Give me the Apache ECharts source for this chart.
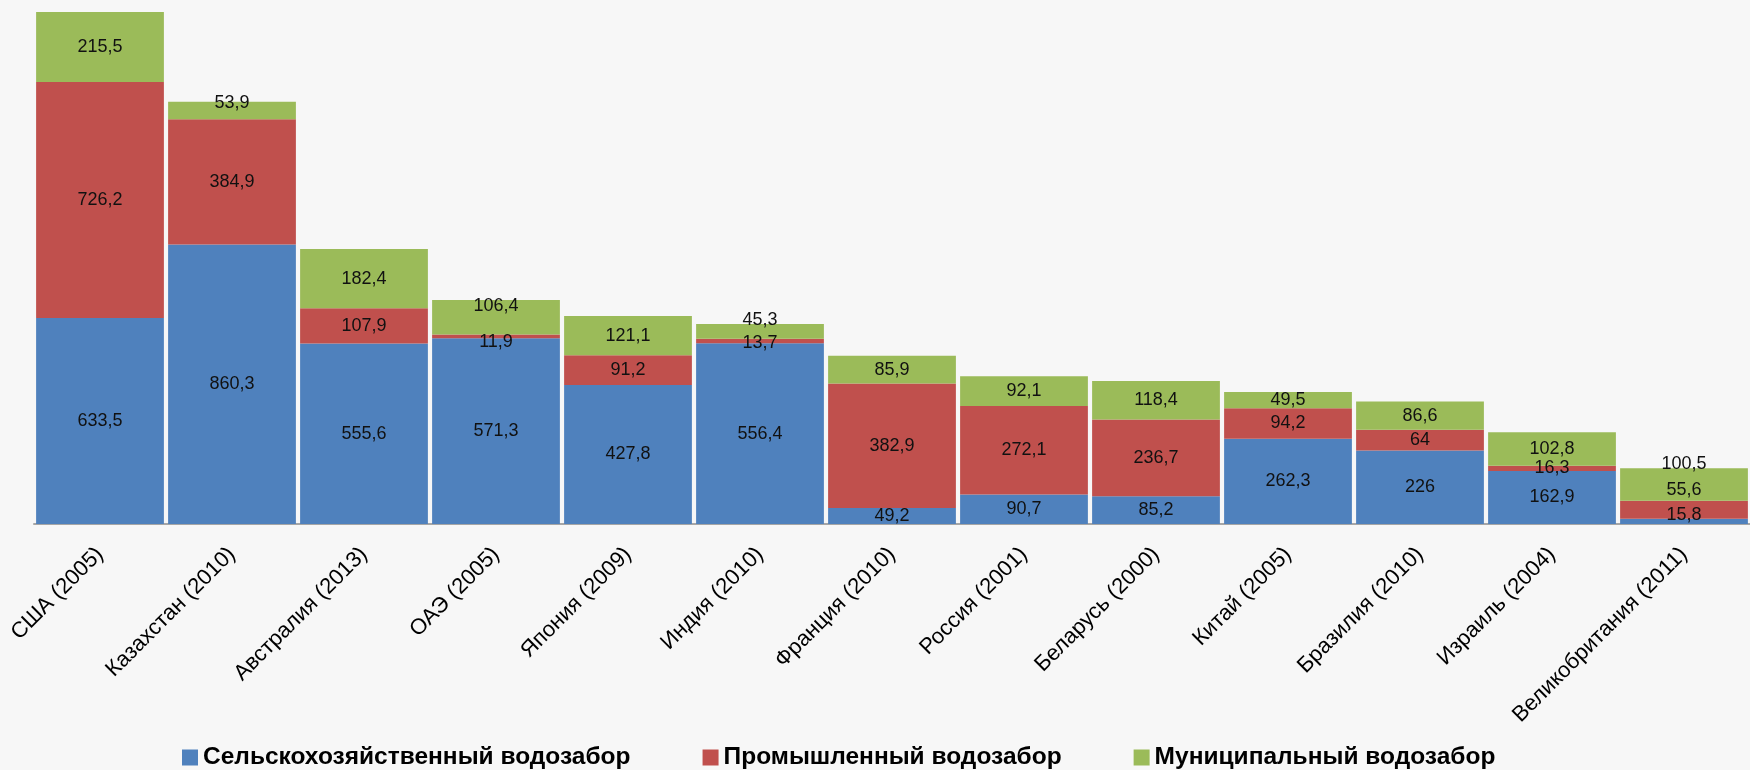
<!DOCTYPE html>
<html>
<head>
<meta charset="utf-8">
<script src="https://cdn.jsdelivr.net/npm/echarts@6/dist/echarts.min.js"></script>
<style>
html,body{margin:0;padding:0;background:#f7f7f7;}
#chart{width:1750px;height:770px;}
</style>
</head>
<body>
<div id="chart"></div>
<script>
const categories = ['США (2005)', 'Казахстан (2010)', 'Австралия (2013)', 'ОАЭ (2005)', 'Япония (2009)', 'Индия (2010)', 'Франция (2010)', 'Россия (2001)', 'Беларусь (2000)', 'Китай (2005)', 'Бразилия (2010)', 'Израиль (2004)', 'Великобритания (2011)'];
const seriesNames = ['Сельскохозяйственный водозабор', 'Промышленный водозабор', 'Муниципальный водозабор'];
const agricultural = [633.5, 860.3, 555.6, 571.3, 427.8, 556.4, 49.2, 90.7, 85.2, 262.3, 226, 162.9, 15.8];
const industrial = [726.2, 384.9, 107.9, 11.9, 91.2, 13.7, 382.9, 272.1, 236.7, 94.2, 64, 16.3, 55.6];
const municipal = [215.5, 53.9, 182.4, 106.4, 121.1, 45.3, 85.9, 92.1, 118.4, 49.5, 86.6, 102.8, 100.5];

// label nudges (px, vertical) to mimic original label placement
const labelNudge = [
  {12: -6},
  {3: 6, 5: 2, 12: -20},
  {1: -8, 3: -11, 5: -11, 12: -20}
];
const colors = ['#4F81BD', '#C0504D', '#9BBB59'];
const values = [agricultural, industrial, municipal];

const chart = echarts.init(document.getElementById('chart'));
const fmt = p => String(p.value).replace('.', ',');

const series = values.map((arr, si) => ({
  name: seriesNames[si],
  type: 'bar',
  stack: 'total',
  barCategoryGap: '3.2%',
  itemStyle: {color: colors[si]},
  label: {
    show: true,
    position: 'inside',
    formatter: fmt,
    fontFamily: 'Liberation Sans, Arial, sans-serif',
    fontSize: 18,
    color: '#111'
  },
  data: arr.map((v, i) => {
    const d = {value: v};
    if (labelNudge[si][i] !== undefined) {
      d.label = {offset: [0, labelNudge[si][i]]};
    }
    return d;
  })
}));

chart.setOption({
  backgroundColor: '#f7f7f7',
  animation: false,
  grid: {left: 34, right: -17, top: 4, bottom: 246, containLabel: false},
  legend: {
    left: 177,
    top: 740,
    itemWidth: 16,
    itemHeight: 16,
    itemGap: 72,
    icon: 'rect',
    textStyle: {fontFamily: 'Liberation Sans, Arial, sans-serif', fontSize: 24.5, fontWeight: 'bold', color: '#000'},
    data: seriesNames
  },
  xAxis: {
    type: 'category',
    data: categories,
    axisLine: {lineStyle: {color: '#a6a6a6', width: 2}},
    axisTick: {show: false},
    axisLabel: {
      rotate: 45,
      interval: 0,
      margin: 27,
      fontFamily: 'Liberation Sans, Arial, sans-serif',
      fontSize: 22,
      color: '#000'
    }
  },
  yAxis: {
    type: 'value',
    min: 0,
    max: 1600,
    show: false,
    splitLine: {show: false}
  },
  series: series
});
</script>
</body>
</html>
